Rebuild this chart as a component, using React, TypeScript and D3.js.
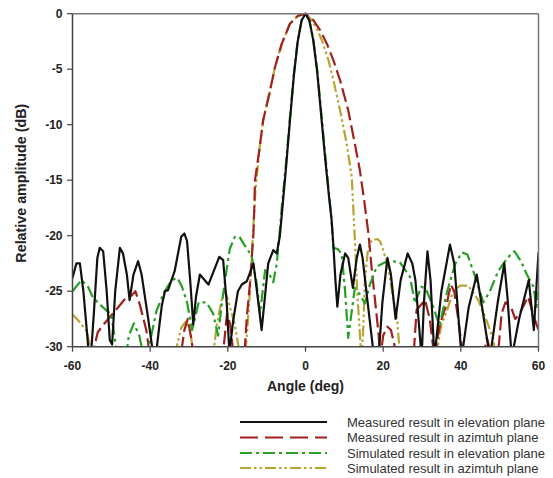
import React from "react";
import * as d3 from "d3";

type Pt = [number, number];

// Measured result in elevation plane (angle deg, dB)
const measuredElevation: Pt[] = [
  [-60, -23.8], [-59, -22.5], [-58.1, -22.5], [-57.2, -25], [-56.2, -29], [-55.5, -32], [-54.5, -27],
  [-53.6, -22], [-53, -21.1], [-52.1, -21.4], [-51.2, -25], [-50.4, -29.4], [-49.8, -29.8], [-49, -25],
  [-47.8, -21.1], [-47, -21.6], [-46, -23.5], [-45.3, -25.8], [-44.3, -23.5], [-43.1, -22.3], [-42.2, -23.5],
  [-40.5, -27.5], [-39.3, -30.5], [-38.6, -31], [-37.6, -28], [-37, -26.3], [-36.2, -25], [-35.4, -24.9],
  [-33.7, -23.2], [-32, -20.1], [-31.2, -19.8], [-30.5, -20.5], [-29.7, -24], [-28.9, -28], [-28.2, -25.5],
  [-27.2, -23.5], [-25, -24.4], [-22.2, -21.9], [-21.2, -22.2], [-20.3, -26], [-19.6, -30.5], [-18.6, -27.6],
  [-17.4, -25], [-16.4, -24.4], [-15.1, -24.1], [-13.4, -22.5], [-12.5, -25], [-11.3, -28.5], [-10.3, -25],
  [-9.6, -22.5], [-8.3, -21.3], [-7.4, -21.6], [-6.6, -20], [-6, -17.7], [-5, -13.8], [-4, -9.6], [-3, -5.6],
  [-2, -2.5], [-1, -0.6], [0, 0], [1, -0.6], [2, -2.4], [3, -5.2], [4, -9.0], [5, -12.8], [6, -16.3],
  [6.7, -18.5], [7.2, -21], [7.7, -24], [8.2, -26.4], [9, -23.5], [10.2, -21.6], [11, -22], [12.2, -24.7],
  [13.2, -22], [14, -20.8], [14.7, -22], [16, -26], [17.5, -30.5], [18.8, -31], [19.8, -26], [21.1, -22],
  [22, -23.5], [23.2, -27.5], [24.5, -24], [26.3, -21.6], [27.5, -22.5], [28.3, -24], [29.9, -31], [30.5, -26],
  [31.4, -21.4], [32.2, -24], [33.2, -31], [35, -25], [37.2, -20.8], [38.3, -22.5], [40.2, -31], [42, -26.5],
  [44.1, -23.5], [45.5, -26.5], [47.5, -31], [49.5, -26], [51.2, -22.5], [52, -25.5], [53.1, -31], [55, -27.5],
  [57.5, -24], [58.8, -28.5], [60, -21.5],
];

// Measured result in azimuth plane
const measuredAzimuth: Pt[] = [
  [-60, -33], [-55.5, -33], [-55, -31], [-53.5, -28.7], [-52, -28], [-50.3, -27.3], [-48.6, -26.6],
  [-46.5, -25.7], [-44.8, -25.4], [-43.8, -25], [-42.6, -26.3], [-41, -28.5], [-40, -31], [-39, -33],
  [-33, -33], [-32, -30.5], [-31.2, -28.5], [-30.3, -27.5], [-29.3, -29.5], [-28.5, -32], [-22, -32],
  [-21.2, -30.5], [-20.2, -27], [-19.4, -28], [-18.6, -30.5], [-18, -33], [-16.3, -33], [-15.6, -30],
  [-15.1, -27.3], [-14.3, -24.3], [-13.4, -19.8], [-13.2, -17.7], [-13, -15], [-11.9, -12.3], [-10.9, -9.6],
  [-9.3, -7.2], [-7.85, -4.8], [-6.1, -2.7], [-4, -0.9], [-2, -0.2], [0, 0], [2, -0.57], [3.8, -1.5],
  [5.5, -2.7], [7.2, -4.2], [8.9, -6], [11, -8.7], [12.7, -11.7], [14, -14.1], [15.1, -16.8], [16.2, -19.8],
  [17, -22.8], [17.9, -25.8], [18.8, -28.8], [19.3, -31], [20, -29], [21.1, -28.2], [22, -28.5], [23, -30],
  [24, -32], [27.5, -32], [27.8, -31], [28.6, -26.7], [30.8, -25.8], [32, -27.5], [33.2, -31], [34.6, -28],
  [36.4, -26.1], [37.4, -24.4], [38.3, -25], [39.4, -27.7], [40.6, -31], [41.5, -33], [45.5, -33], [46.3, -30],
  [46.7, -29.2], [47.3, -30], [48, -33], [49.5, -31], [50.5, -27], [51.5, -26], [53, -26.5], [54, -27.5],
  [55.2, -27], [57.3, -25.5], [59, -27.5], [60, -28.5],
];

// Simulated result in elevation plane
const simulatedElevation: Pt[] = [
  [-60, -25], [-57.7, -24], [-56, -24.6], [-54.7, -25.6], [-52, -26.5], [-50, -27.1], [-49, -29.5],
  [-48.5, -31], [-46.2, -31], [-45.5, -29], [-44.2, -27.9], [-42.8, -29], [-41.6, -31], [-40, -29.5],
  [-38.4, -26.8], [-36.4, -25.1], [-34.5, -24], [-33, -23.8], [-31.8, -24.6], [-30.5, -26], [-29.2, -28.5],
  [-27.5, -26], [-25.5, -26], [-23.8, -27], [-22.5, -29], [-21.5, -26], [-20.5, -23.5], [-19.5, -21.2],
  [-18.2, -20.1], [-17, -20.1], [-15.8, -20.8], [-13.9, -21.8], [-12.7, -24], [-11.7, -27], [-10.4, -23.1],
  [-9.3, -23.5], [-8.3, -24.2], [-7.4, -22.5], [-6.6, -19.5], [-6.1, -17.4], [-5, -13.4], [-4, -9.3],
  [-3, -5.4], [-2, -2.4], [-1, -0.6], [0, 0], [1, -0.6], [2, -2.3], [3, -5.0], [4, -8.7], [5, -12.4],
  [6, -16], [6.7, -18.5], [7.2, -21.1], [8.3, -21.2], [9.3, -21.6], [10.2, -25], [11, -29.2], [12.7, -24.7],
  [14, -25.3], [15.3, -26.1], [16.5, -24.5], [18.3, -22.8], [20.5, -22.4], [22.5, -22.3], [24.3, -22.4],
  [26.9, -23.7], [28.2, -26.1], [29.8, -24.6], [31, -24.8], [33, -26.5], [34.5, -28.1], [36.5, -25],
  [38.6, -22.5], [40.3, -21.5], [41.7, -21.7], [43.5, -23.5], [45.8, -26], [47.5, -25], [49.6, -23.2],
  [52, -22], [53.8, -21.4], [55.5, -22.3], [57, -23.5], [58.7, -24.6], [59.5, -26.4], [60, -25],
];

// Simulated result in azimuth plane
const simulatedAzimuth: Pt[] = [
  [-60, -27.1], [-58.6, -27.6], [-56.3, -28.6], [-55.2, -30.5], [-54.5, -33], [-34.5, -33], [-33.5, -30.5],
  [-32, -28.3], [-31, -27.8], [-30.5, -27.7], [-29.5, -29], [-28.8, -31], [-28, -33], [-24.5, -33],
  [-23.7, -30.5], [-22.9, -28.2], [-21.6, -25.8], [-20.9, -24.9], [-20.2, -25.5], [-18.2, -28], [-17, -30.5],
  [-16.3, -32], [-15.6, -31], [-15, -28.5], [-14.3, -25], [-13.5, -19.5], [-12.9, -16], [-11.9, -12.3],
  [-10.9, -9.6], [-9.3, -7.2], [-7.85, -4.8], [-6.1, -2.7], [-4, -0.9], [-2, -0.2], [0, 0], [1.2, -0.42],
  [2.7, -1.2], [4.2, -2.37], [5.9, -4.17], [7.2, -6], [8.9, -8.7], [10.6, -11.7], [11.9, -14.7],
  [12.3, -17.4], [12.8, -21], [13.3, -25], [14, -28.8], [14.4, -31], [14.8, -29], [15.3, -24], [16, -21.5],
  [17, -20.4], [18.5, -20.3], [19.2, -20.5], [20, -21.3], [21.3, -22.8], [22.6, -25.8], [23.5, -27.3],
  [24.3, -30.5], [25, -33], [33, -33], [33.8, -30.5], [35, -28], [36.4, -26.8], [38, -25], [39.8, -24.5],
  [41.9, -24.5], [44.5, -25.8], [46.7, -27.7], [48.4, -29.4], [49, -31], [50, -33], [60, -33],
];

const xTicks = [-60, -40, -20, 0, 20, 40, 60];
const yTicks = [0, -5, -10, -15, -20, -25, -30];

const seriesNames = [
  "Measured result in elevation plane",
  "Measured result in azimtuh plane",
  "Simulated result in elevation plane",
  "Simulated result in azimtuh plane",
];

export default function App() {
  const W = 553;
  const H = 478;
  const left = 72.5, right = 538.5, top = 13.7, bottom = 346.7;
  const x = d3.scaleLinear().domain([-60, 60]).range([left, right]);
  const y = d3.scaleLinear().domain([-30, 0]).range([bottom, top]);
  const line = d3
    .line<Pt>()
    .x((d) => x(d[0]))
    .y((d) => y(d[1]))
    .curve(d3.curveLinear);

  const styles = [
    { data: measuredElevation, color: "#111111", dash: "none" },
    { data: measuredAzimuth, color: "#a0201e", dash: "14,5" },
    { data: simulatedElevation, color: "#25a025", dash: "12,4,3,4" },
    { data: simulatedAzimuth, color: "#b8a432", dash: "11,3,2.5,3,2.5,3" },
  ];
  const order = [3, 1, 2, 0];

  const font = "'Liberation Sans', Arial, sans-serif";
  const legendY = [422, 437.5, 453, 468];

  return (
    <div style={{ position: "absolute", left: 0, top: 0 }}>
      <svg width={W} height={H} style={{ display: "block", background: "#fff" }}>
        <defs>
          <clipPath id="plotClip">
            <rect x={left} y={top - 2} width={right - left} height={bottom - top + 2} />
          </clipPath>
        </defs>
        <rect x={0} y={0} width={W} height={H} fill="#fff" />
        <g clipPath="url(#plotClip)">
          {order.map((i) => (
            <path
              key={i}
              d={line(styles[i].data) || ""}
              fill="none"
              stroke={styles[i].color}
              strokeWidth={2.2}
              strokeDasharray={styles[i].dash}
              strokeLinejoin="round"
            />
          ))}
        </g>
        {/* frame */}
        <line x1={left} x2={right} y1={top} y2={top} stroke="#777" strokeWidth={1.5} />
        <line x1={right} x2={right} y1={top} y2={bottom} stroke="#777" strokeWidth={1.5} />
        <line x1={left} x2={left} y1={top} y2={bottom} stroke="#444" strokeWidth={1.5} />
        <line x1={left} x2={right} y1={bottom} y2={bottom} stroke="#444" strokeWidth={1.5} />
        {/* y ticks */}
        {yTicks.map((t) => (
          <g key={"y" + t}>
            <line x1={left - 5.5} x2={left} y1={y(t)} y2={y(t)} stroke="#444" strokeWidth={1.2} />
            <text
              x={left - 10}
              y={y(t) + 4.2}
              textAnchor="end"
              fontFamily={font}
              fontWeight="bold"
              fontSize={12}
              fill="#222"
            >
              {t}
            </text>
          </g>
        ))}
        {/* x ticks */}
        {xTicks.map((t) => (
          <g key={"x" + t}>
            <line x1={x(t)} x2={x(t)} y1={bottom} y2={bottom + 5} stroke="#444" strokeWidth={1.2} />
            <text
              x={x(t)}
              y={bottom + 23}
              textAnchor="middle"
              fontFamily={font}
              fontWeight="bold"
              fontSize={12}
              fill="#222"
            >
              {t}
            </text>
          </g>
        ))}
        <text
          x={x(0)}
          y={391}
          textAnchor="middle"
          fontFamily={font}
          fontWeight="bold"
          fontSize={14}
          fill="#222"
        >
          Angle (deg)
        </text>
        <text
          transform={`translate(26, ${(top + bottom) / 2 + 3}) rotate(-90)`}
          textAnchor="middle"
          fontFamily={font}
          fontWeight="bold"
          fontSize={14.3}
          fill="#222"
        >
          Relative amplitude (dB)
        </text>
        {/* legend */}
        {styles.map((s, i) => (
          <g key={"lg" + i}>
            <line
              x1={240}
              x2={327}
              y1={legendY[i]}
              y2={legendY[i]}
              stroke={s.color}
              strokeWidth={2.2}
              strokeDasharray={i === 1 ? "18,7" : s.dash}
            />
            <text
              x={347}
              y={legendY[i] + 4.5}
              fontFamily={font}
              fontSize={13}
              fill="#333"
            >
              {seriesNames[i]}
            </text>
          </g>
        ))}
      </svg>
    </div>
  );
}
